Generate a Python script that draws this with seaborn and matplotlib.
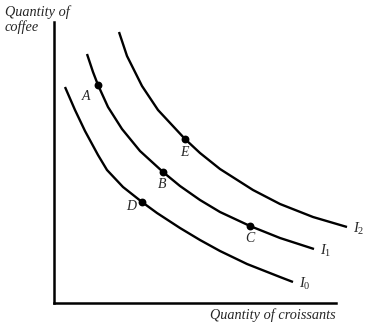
import numpy as np
import pandas as pd
import seaborn as sns
import matplotlib
matplotlib.use("Agg")
import matplotlib.pyplot as plt

# Values (x = croissants, y = coffee, arbitrary units)
i0_x = [11, 21, 31, 44, 53, 69, 88, 103, 126, 146, 166, 193, 226, 239]
i0_y = [216, 193, 172, 148, 133, 116, 101, 90, 75, 63, 52, 39, 26, 21]
i1_x = [33, 39, 44, 54, 68, 86, 109, 126, 146, 166, 196, 226, 260]
i1_y = [249, 231, 218, 196, 174, 152, 131, 117, 103, 91, 77, 65, 54]
i2_x = [65, 73, 88, 104, 131, 146, 166, 199, 226, 259, 293]
i2_y = [271, 247, 217, 193, 164, 150, 134, 113, 99, 86, 76]
curve_names = ["I0", "I1", "I2"]
curve_labels = [r"$I_0$", r"$I_1$", r"$I_2$"]

point_names = ["A", "B", "C", "D", "E"]
point_x = [44, 109, 196, 88, 131]
point_y = [218, 131, 77, 101, 164]

x_label = "Quantity of croissants"
y_label_lines = ["Quantity of", "coffee"]

sns.set_style("white")
plt.rcParams["font.family"] = ["Liberation Serif", "DejaVu Serif"]
plt.rcParams["mathtext.fontset"] = "custom"
plt.rcParams["mathtext.it"] = "Liberation Serif:italic"
plt.rcParams["mathtext.rm"] = "Liberation Serif"

W, H = 381, 328
fig = plt.figure(figsize=(W / 100, H / 100), dpi=100)
ax = fig.add_axes([54 / W, (H - 303) / H, 282 / W, 281 / H])

frames = []
for name, xs, ys in zip(curve_names, [i0_x, i1_x, i2_x], [i0_y, i1_y, i2_y]):
    frames.append(pd.DataFrame({"x": xs, "y": ys, "curve": name}))
df = pd.concat(frames, ignore_index=True)

sns.lineplot(data=df, x="x", y="y", units="curve", estimator=None, sort=False,
             color="black", linewidth=1.7, ax=ax)
for ln in ax.lines:
    ln.set_clip_on(False)
    ln.set_solid_joinstyle("round")
    ln.set_solid_capstyle("butt")

pts = pd.DataFrame({"x": point_x, "y": point_y, "name": point_names})
sns.scatterplot(data=pts, x="x", y="y", color="black", s=32, edgecolor="black",
                linewidth=0, ax=ax, zorder=5, clip_on=False)

offsets = {"A": (-12, -11), "B": (-1, -13), "C": (0, -12), "D": (-11, -5), "E": (-1, -14)}
for n, x, y in zip(point_names, point_x, point_y):
    ax.annotate(n, (x, y), xytext=offsets[n], textcoords="offset pixels",
                ha="center", va="center", fontsize=10, style="italic")

for lab, xs, ys in zip(curve_labels, [i0_x, i1_x, i2_x], [i0_y, i1_y, i2_y]):
    ax.annotate(lab, (xs[-1], ys[-1]), xytext=(6, -6), textcoords="offset pixels",
                ha="left", va="baseline", fontsize=10.5, annotation_clip=False)

ax.set_xlim(0, 282)
ax.set_ylim(0, 281)
ax.set_xticks([])
ax.set_yticks([])
ax.set_xlabel("")
ax.set_ylabel("")
sns.despine(ax=ax)
for s in ["left", "bottom"]:
    ax.spines[s].set_linewidth(1.8)
    ax.spines[s].set_color("black")

for txt, base in zip(y_label_lines, [16, 31]):
    fig.text(5 / W, 1 - base / H, txt, ha="left", va="baseline", fontsize=10.3,
             style="italic")
fig.text(336 / W, 1 - 319 / H, x_label, ha="right", va="baseline", fontsize=10.3,
         style="italic")

fig.savefig("out.png", dpi=100, facecolor="white")
